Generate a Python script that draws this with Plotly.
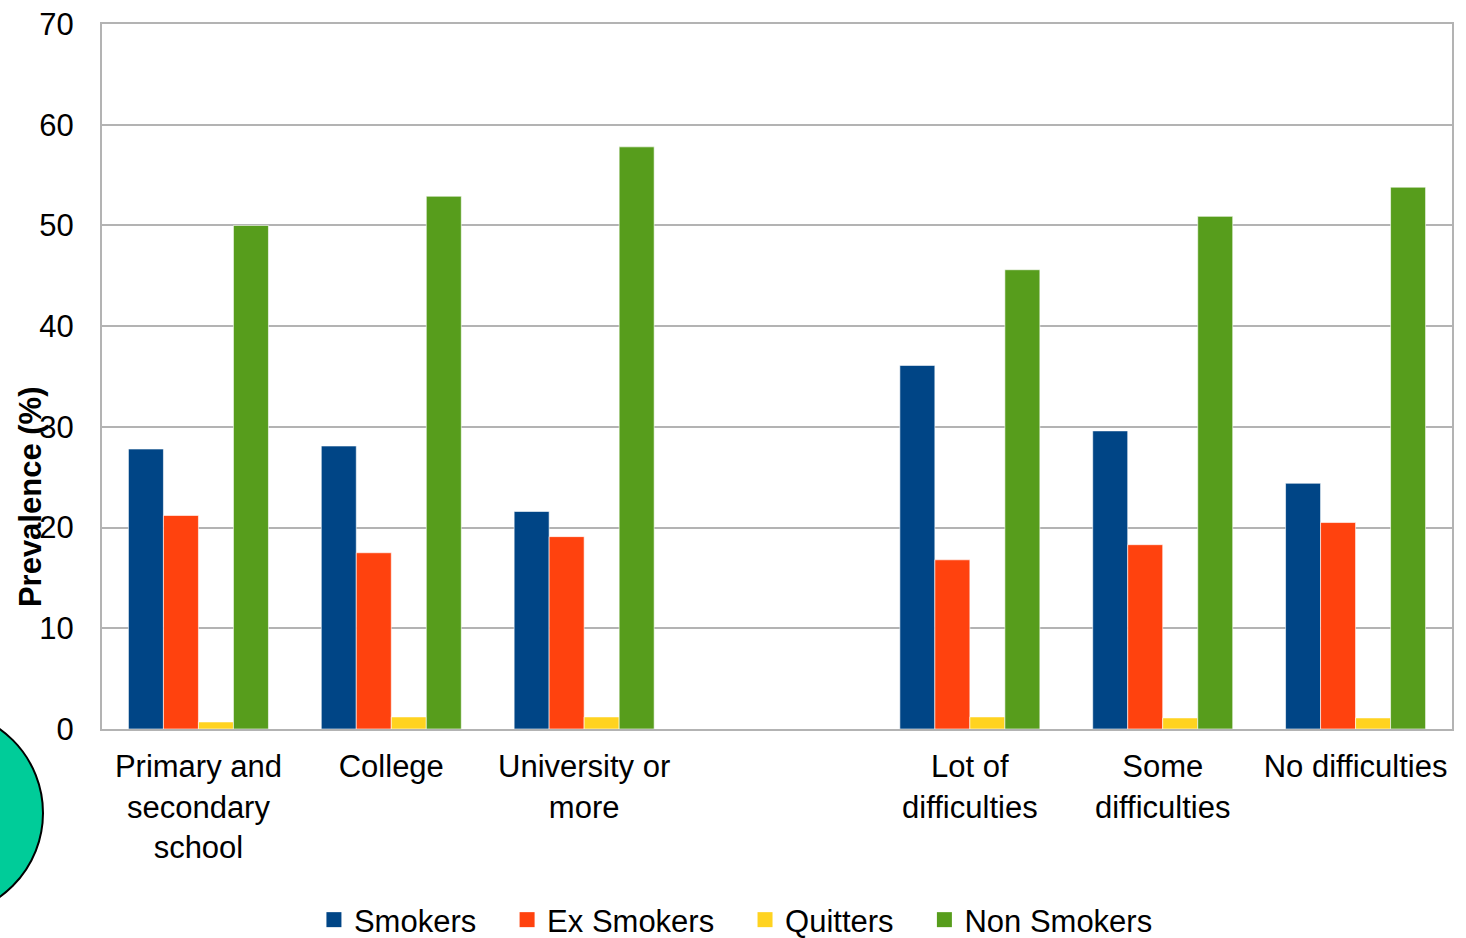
import plotly.graph_objects as go

categories = ["Primary and<br>secondary<br>school", "College", "University or<br>more", " ",
              "Lot of<br>difficulties", "Some<br>difficulties", "No difficulties"]
smokers = [27.8, 28.1, 21.6, None, 36.1, 29.6, 24.4]
ex_smokers = [21.2, 17.5, 19.1, None, 16.8, 18.3, 20.5]
quitters = [0.7, 1.2, 1.2, None, 1.2, 1.1, 1.1]
non_smokers = [50.0, 52.9, 57.8, None, 45.6, 50.9, 53.8]
series_names = ["Smokers", "Ex Smokers", "Quitters", "Non Smokers"]
colors = ["#004586", "#FF420E", "#FFD320", "#579D1C"]

FONT = "Liberation Sans, Arial, sans-serif"
PAD = "&nbsp;&nbsp;&nbsp;"

fig = go.Figure()
for name, vals, col in zip(series_names, [smokers, ex_smokers, quitters, non_smokers], colors):
    fig.add_trace(go.Bar(x=categories, y=vals, name=name, marker_color=col, showlegend=False,
                         marker_line=dict(color="rgba(255,255,255,0.6)", width=1)))
# legend entries with square swatches
for i, (name, col) in enumerate(zip(series_names, colors)):
    label = name + (PAD if i < len(series_names) - 1 else "")
    fig.add_trace(go.Scatter(x=[None], y=[None], mode="markers", name=label,
                             marker=dict(symbol="square", size=15, color=col)))

fig.update_layout(
    width=1466, height=938,
    margin=dict(l=102, r=14, t=24, b=209, autoexpand=False),
    paper_bgcolor="white", plot_bgcolor="white",
    barmode="group", bargap=0.274, bargroupgap=0,
    font=dict(family=FONT, size=31, color="black"),
    showlegend=True,
    legend=dict(orientation="h", x=0.502, xref="container", xanchor="center",
                y=1 - 920 / 938, yref="container", yanchor="middle",
                font=dict(size=31), itemsizing="trace", tracegroupgap=0,
                bgcolor="rgba(0,0,0,0)"),
    xaxis=dict(type="category", categoryorder="array", categoryarray=categories,
               showline=True, linecolor="#b3b3b3", linewidth=2, mirror=True,
               ticks="outside", ticklen=9, tickcolor="rgba(0,0,0,0)",
               tickfont=dict(size=31), showgrid=False, automargin=False),
    yaxis=dict(range=[0, 70], dtick=10, showline=True, linecolor="#b3b3b3", linewidth=2,
               mirror=True, gridcolor="#b3b3b3", gridwidth=2, ticks="outside",
               ticklen=20, tickcolor="rgba(0,0,0,0)", tickfont=dict(size=31),
               zeroline=False, automargin=False),
    annotations=[dict(text="<b>Prevalence (%)</b>", xref="paper", yref="paper",
                      x=-0.0533, y=0.329, xanchor="center", yanchor="middle",
                      textangle=-90, showarrow=False, font=dict(size=31, color="black"))],
    shapes=[dict(type="circle", xref="paper", yref="paper",
                 x0=-0.1963, x1=-0.0437, y0=-0.2652, y1=0.02695,
                 fillcolor="#00CC99", line=dict(color="black", width=2), layer="above")],
)

fig.write_html("out.html")
